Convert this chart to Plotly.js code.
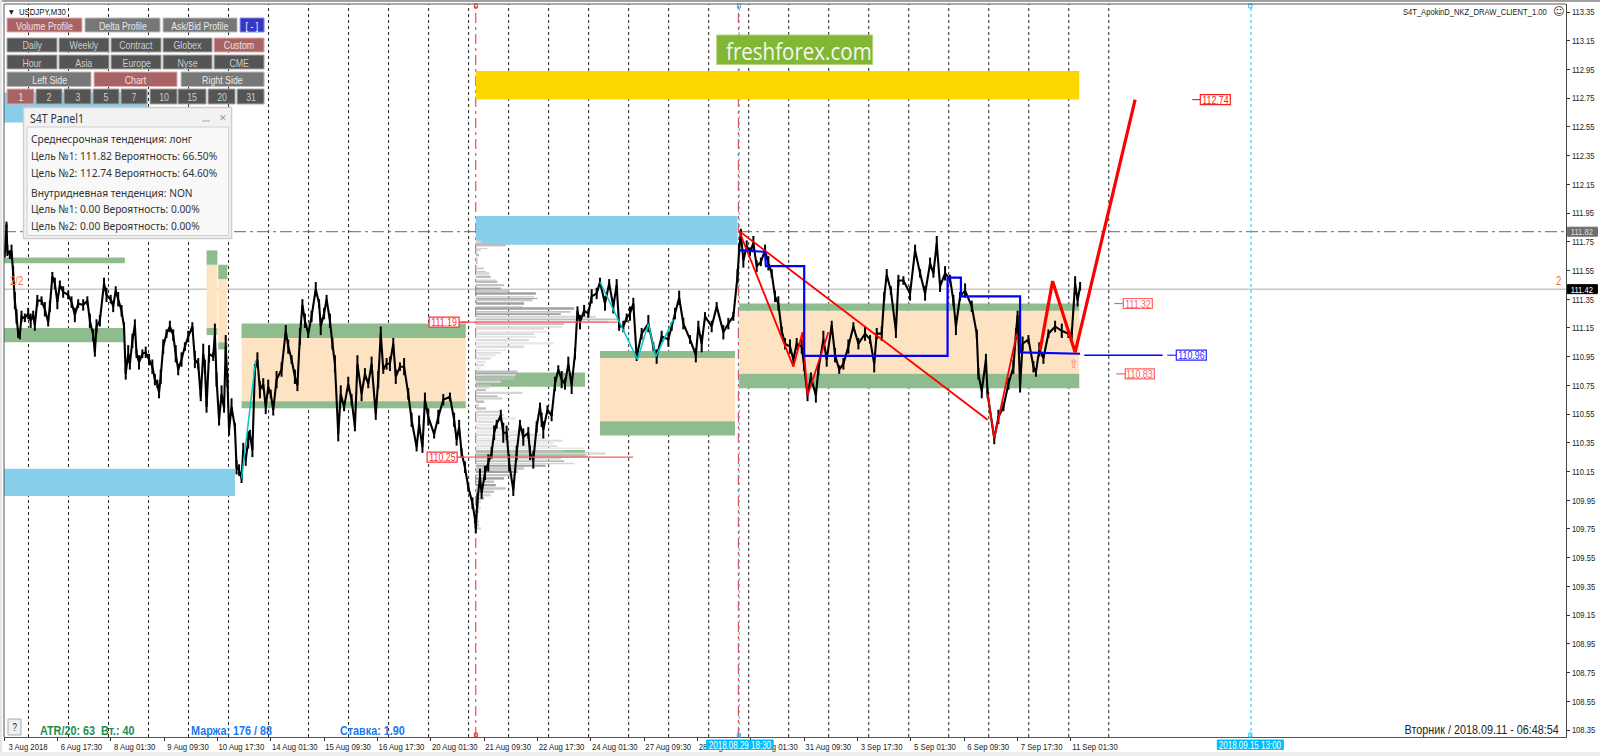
<!DOCTYPE html>
<html><head><meta charset="utf-8">
<script src="https://cdn.plot.ly/plotly-3.0.1.min.js"></script>
<style>html,body{margin:0;padding:0;background:#fff;overflow:hidden}#c{width:1600px;height:756px}</style>
</head><body><div id="c"></div>
<script>
// ---- data (bar index = 30 minute bars from the left edge, prices in JPY) ----
const priceBars = [1,3,4,7,9,11,13,15,17,19,21,25,29,32,35,37,40,45,49,53,55,58,61,64,67,71,77,81,85,89,95,100,103,107,109,111,115,120,123,128,131,134,137,141,144,146,149,151,154,157,159,162,166,170,174,178,181,184,186,188,191,195,199,203,206,209,213,217,221,226,229,233,236,239,241,243,246,251,253,255,258,261,264,266,268,270,273,277,279,282,285,287,290,293,295,298,301,304,307,311,314,317,320,323,327,333,338,341,345,349,352,355,358,361,365,369,374,378,380,384,387,391,394,397,401,404,408,413,417,421,424,429,433,437,441,446,449,452,455,459,463,467,470,475,480,485,489,495,498,502,505,509,516,521,527,535,540,543,546,549,553,557,562,565,
566,568,571,573,577,581,585,588,591,596,599,603,606,611,615,619,623,629,631,635,639,643,645,647,652,657,661,665,669,673,677,681,685,688,691,696,701,705,711,715,721,726,731,735,738,743,747,751,755,759,765,773,779,783,789,797,801,805,810,815,823,830,833,837,841,849,855,863,869,875,880,882,
884,887,891,895,899,903,908,913,917,921,925,929,933,937,943,947,951,957,960,964,968,974,977,983,987,993,997,1002,1007,1013,1019,1025,1033,1039,1044,1047,1053,1056,1059,1064,1070,1073,1079,1087,1093,1099,1105,1111,1115,1119,1123,1129,1135,1139,1142,1147,1153,1161,1167,1169,1173,1178,1180,1188,1193,1199,1205,1211,1214,1216,1219,1222,1229,1235,1238,1242,1247,1253,1261,1269,1277,1281,1285,1288,1291];
const priceVals = [111.67,111.87,111.69,111.66,111.69,111.53,111.34,111.23,111.11,111.10,111.23,111.22,111.25,111.20,111.24,111.17,111.34,111.34,111.28,111.19,111.30,111.51,111.46,111.33,111.45,111.40,111.38,111.33,111.24,111.32,111.31,111.34,111.20,111.10,110.98,111.16,111.20,111.46,111.38,111.35,111.30,111.41,111.35,111.27,111.16,110.83,110.97,110.90,111.06,111.17,110.97,110.91,110.97,110.98,110.93,110.88,110.79,110.76,110.70,110.81,111.02,111.11,111.16,111.10,110.97,110.86,110.93,111.02,111.09,111.16,110.93,110.90,110.67,110.97,110.88,110.60,110.97,110.95,111.11,110.79,110.51,110.69,110.59,111.02,110.79,110.44,110.60,110.46,110.18,110.16,110.10,110.30,110.23,110.37,110.41,110.30,110.86,110.93,110.72,110.76,110.60,110.74,110.69,110.58,110.79,110.86,111.13,111.02,110.93,110.81,110.75,111.09,111.31,111.20,111.11,111.23,111.42,111.32,111.16,111.25,111.35,111.20,111.04,110.90,110.41,110.69,110.60,110.76,110.65,110.46,110.90,110.69,110.83,110.76,110.90,110.55,110.79,111.11,110.86,110.90,110.90,111.04,110.81,110.88,110.88,110.69,110.51,110.32,110.48,110.32,110.65,110.53,110.41,110.53,110.65,110.67,110.51,110.37,110.46,110.28,110.18,110.04,109.93,109.82,
109.75,109.95,110.11,110.00,110.14,110.21,110.28,110.42,110.48,110.54,110.42,110.42,110.21,110.02,110.28,110.48,110.39,110.42,110.28,110.23,110.46,110.60,110.51,110.44,110.58,110.54,110.76,110.86,110.79,110.76,110.90,110.75,110.97,111.27,111.19,111.27,111.25,111.37,111.39,111.47,111.32,111.46,111.30,111.45,111.16,111.16,111.22,111.25,111.32,110.95,111.11,111.18,111.02,110.95,111.09,111.07,111.16,111.25,111.36,111.18,111.07,110.96,111.16,111.04,111.23,111.16,111.30,111.12,111.18,111.23,111.51,111.70,
111.81,111.62,111.72,111.68,111.74,111.58,111.61,111.69,111.60,111.53,111.37,111.32,111.13,111.04,111.02,110.93,111.04,111.02,110.88,110.68,110.81,110.68,110.86,111.07,110.93,111.17,110.96,110.86,110.90,111.02,111.16,111.04,111.11,111.07,110.90,111.11,111.11,111.37,111.52,111.41,111.13,111.48,111.48,111.39,111.69,111.53,111.39,111.60,111.53,111.74,111.44,111.53,111.49,111.34,111.16,111.37,111.41,111.30,111.11,110.83,110.71,110.93,110.69,110.38,110.53,110.60,110.76,110.88,111.11,111.24,110.74,111.04,111.07,110.88,110.84,111.00,110.94,111.11,111.16,111.13,111.11,111.11,111.46,111.34,111.44];
// half range of the bars around each vertex of the path (estimated by eye, in hundredths)
const barHalfRange = [3,2,4,3,4,5,6,5,3,3,4,3,4,5,3,4,4,3,5,3,4,3,4,5,3,4,3,4,5,3,4,3,5,4,3,5,4,4,5,3,4,3,5,4,3,4,6,4,5,4,3,5,3,4,4,5,4,3,4,5,5,3,4,4,6,4,5,3,4,3,6,4,3,7,5,4,6,3,7,5,4,6,3,8,5,4,6,3,5,4,3,5,4,6,3,5,4,5,6,4,5,5,3,4,6,5,4,5,3,5,4,6,4,5,3,4,5,3,6,4,3,5,4,6,5,6,3,5,4,3,6,5,4,3,5,4,6,5,3,4,5,4,5,3,6,4,5,3,6,4,5,6,3,5,4,3,5,4,5,3,4,3,4,3,
3,5,6,4,5,6,4,5,3,4,7,5,6,4,5,3,6,4,5,6,4,3,5,6,3,4,5,3,6,4,5,6,4,3,5,4,3,5,4,3,5,3,5,4,3,4,3,5,4,3,4,6,3,5,4,5,3,4,5,4,3,5,4,6,3,4,3,5,4,3,5,4,
3,5,4,3,5,4,3,4,5,3,4,5,3,4,5,3,4,5,3,4,3,5,4,6,5,3,5,3,4,5,3,4,5,3,6,4,5,3,4,3,5,4,3,5,4,3,5,4,3,5,4,5,3,4,6,3,5,4,3,4,5,4,3,4,5,3,4,5,4,3,4,5,3,4,3,5,4,3,4,5,3,4,5,4,3,4,5,4,3];

const profileLevels = [111.750,111.727,111.703,111.692,111.680,111.657,111.634,111.611,111.564,111.541,111.529,111.506,111.483,111.471,111.448,111.425,111.409,111.390,111.367,111.355,111.344,111.320,111.297,111.286,111.262,111.246,111.228,111.209,111.193,111.176,111.158,111.146,111.123,111.107,111.088,111.065,111.042,111.019,110.995,110.977,110.961,110.937,110.914,110.891,110.868,110.845,110.821,110.798,110.775,110.752,110.735,110.717,110.698,110.675,110.659,110.636,110.612,110.589,110.566,110.543,110.520,110.496,110.473,110.450,110.427,110.404,110.380,110.364,110.345,110.327,110.311,110.294,110.276,110.257,110.241,110.222,110.206,110.190,110.171,110.148,110.125,110.102,110.079,110.055,110.032,110.009,109.986,109.962,109.939,109.916,109.893,109.870,109.846,109.823,109.800,109.777,109.754,109.730];
const profileVolumes = [7,36,14,6,2,4,2,2,10,12,16,18,24,26,34,30,40,72,70,74,68,58,56,118,114,102,144,170,158,106,104,82,86,70,72,64,94,58,36,30,24,18,12,10,6,50,48,46,30,18,16,12,56,26,32,10,4,12,28,34,48,22,26,32,58,78,86,104,94,98,130,106,156,134,102,106,118,84,58,50,46,34,22,24,36,22,18,10,6,2,6,4,2,2,4,4,6,0];
const profileStart = 566;

const cyanBars = [285,302,null,715,760,773,782,803];
const cyanVals = [110.10,110.925,null,111.47,110.93,111.18,110.95,111.21];
const redThinBars = [882,1180,null,882,947,958,964,989,null,1180,1188,1215];
const redThinVals = [111.824,110.51,null,111.824,110.88,111.12,110.68,111.12,null,110.69,110.38,111.11];
const redThickBars = [1243,1258,1285,1357];
const redThickVals = [110.995,111.476,110.98,112.74];
const blueBars = [883,913,914,960,960,1132,1132,1148,1148,1219,1219,1291];
const blueVals = [111.69,111.68,111.58,111.58,110.956,110.956,111.50,111.50,111.37,111.37,110.98,110.97];
const blueExtBars = [1296,1390];
const blueExtVals = [110.96,110.96];

// zones: [first bar, last bar, top price, bottom price]
const blueZones = [[0,172,112.79,112.58],[0,277,110.17,109.98],[566,880,111.93,111.73]];
const goldZones = [[566,1290,112.94,112.74]];
const greenZones = [[0,145,111.64,111.60],[0,145,111.15,111.05],[243,256,111.69,111.59],[243,256,111.15,111.10],[257,268,111.59,111.49],[257,268,111.05,111.00],[285,554,111.18,111.08],[285,554,110.64,110.59],[566,697,110.84,110.74],[566,697,110.30,110.25],[715,877,110.99,110.94],[715,877,110.50,110.40],[882,1290,111.32,111.27],[882,1290,110.83,110.73]];
const orangeZones = [[243,256,111.59,111.15],[257,268,111.49,111.05],[285,554,111.08,110.64],[715,877,110.94,110.50],[882,1290,111.27,110.83]];

const separatorFirst = 29.4, separatorStep = 48, separatorCount = 28;
const xTickBars = [0,64,128,192,256,320,384,448,512,576,640,704,768,832,896,960,1024,1088,1152,1216,1280];
const xTickText = ['3 Aug 2018','6 Aug 17:30','8 Aug 01:30','9 Aug 09:30','10 Aug 17:30','14 Aug 01:30','15 Aug 09:30','16 Aug 17:30','20 Aug 01:30','21 Aug 09:30','22 Aug 17:30','24 Aug 01:30','27 Aug 09:30','28 Aug 17:30','30 Aug 01:30','31 Aug 09:30','3 Sep 17:30','5 Sep 01:30','6 Sep 09:30','7 Sep 17:30','11 Sep 01:30'];
const yTicks = [113.35,113.15,112.95,112.75,112.55,112.35,112.15,111.95,111.75,111.55,111.35,111.15,110.95,110.75,110.55,110.35,110.15,109.95,109.75,109.55,109.35,109.15,108.95,108.75,108.55,108.35];
const levelResistance = 111.82, levelBid = 111.42;
const vlineBars = [566,882,1496];

const panelLines = ['Среднесрочная тенденция: лонг','Цель №1: 111.82 Вероятность: 66.50%','Цель №2: 112.74 Вероятность: 64.60%','Внутридневная тенденция: NON','Цель №1: 0.00 Вероятность: 0.00%','Цель №2: 0.00 Вероятность: 0.00%'];

// ---- layout helpers ----
const L=4,R=1565.6,T=4,B=737;
const fx=p=>(p-L)/(R-L), fy=p=>(B-p)/(B-T);
const SANS='"Liberation Sans",sans-serif';
const shapes=[],ann=[];
const zone=(z,col)=>z.forEach(a=>shapes.push({type:'rect',xref:'x',yref:'y',x0:a[0],x1:a[1],y0:a[3],y1:a[2],fillcolor:col,line:{width:0},layer:'below'}));
zone(orangeZones,'#FEE3C2');zone(greenZones,'#8FBC8F');zone(blueZones,'#87CEEB');zone(goldZones,'#FFD700');
for(let k=0;k<separatorCount;k++){const b=separatorFirst+k*separatorStep;
  shapes.push({type:'line',xref:'x',yref:'paper',x0:b,x1:b,y0:0,y1:1,line:{color:'#222',width:1,dash:'3px,3px'},layer:'below'});}
shapes.push({type:'line',xref:'paper',yref:'y',x0:0,x1:1,y0:levelBid,y1:levelBid,line:{color:'#c8c8c8',width:1.5},layer:'below'});
shapes.push({type:'line',xref:'paper',yref:'y',x0:0,x1:1,y0:levelResistance,y1:levelResistance,line:{color:'#666',width:1,dash:'12px,4px,3px,4px'},layer:'below'});
shapes.push({type:'line',xref:'x',yref:'paper',x0:vlineBars[0],x1:vlineBars[0],y0:0,y1:1,line:{color:'#ff2020',width:1,dash:'10px,4px,3px,4px'},layer:'below'});
shapes.push({type:'line',xref:'x',yref:'paper',x0:vlineBars[1]-1,x1:vlineBars[1]-1,y0:0,y1:1,line:{color:'#ff2020',width:1,dash:'10px,4px,3px,4px'},layer:'below'});
shapes.push({type:'line',xref:'x',yref:'paper',x0:vlineBars[1],x1:vlineBars[1],y0:0,y1:1,line:{color:'#19c3ff',width:1,dash:'3px,3px'},layer:'below'});
shapes.push({type:'line',xref:'x',yref:'paper',x0:vlineBars[2],x1:vlineBars[2],y0:0,y1:1,line:{color:'#19c3ff',width:1,dash:'3px,3px'},layer:'below'});
[[111.19,460,617],[110.25,460,633]].forEach(a=>shapes.push({type:'line',xref:'paper',yref:'y',x0:fx(a[1]),x1:fx(a[2]),y0:a[0],y1:a[0],line:{color:'#ff5a5a',width:1.3},layer:'above'}));

const text=(t,px,py,o={})=>ann.push(Object.assign({text:t,xref:'paper',yref:'paper',x:fx(px),y:fy(py),xanchor:'left',yanchor:'middle',showarrow:false,font:{family:SANS,size:10,color:'#222'},align:o.xanchor==='center'?'center':(o.xanchor==='right'?'right':'left')},o));
const rect=(x0,y0,x1,y1,fill,line,w=1)=>shapes.push({type:'rect',xref:'paper',yref:'paper',x0:fx(x0),x1:fx(x1),y0:fy(y1),y1:fy(y0),fillcolor:fill,line:{color:line,width:w},layer:'above'});
const btn=(t,x0,y0,x1,y1,kind)=>{const st={red:['#A86464','#E4AFAF','#f0e0e0'],grey:['#777','#bbb','#e8e8e8'],dark:['#555','#aaa','#ccc'],blue:['#3636c4','#8a8ae8','#fff']}[kind];
  rect(x0,y0,x1,y1,st[0],st[1]);text(t,(x0+x1)/2,(y0+y1)/2+.5,{xanchor:'center',font:{family:SANS,size:11,color:st[2]}});};
[['Volume Profile',7,82,'red'],['Delta Profile',85,160,'grey'],['Ask/Bid Profile',163,237,'grey'],['[ - ]',240,264,'blue']].forEach(a=>btn(a[0],a[1],18,a[2],32,a[3]));
[['Daily',7,57],['Weekly',59,109],['Contract',111,161],['Globex',163,212],['Custom',214,264,'red']].forEach(a=>btn(a[0],a[1],38,a[2],52,a[3]||'dark'));
[['Hour',7,57],['Asia',59,109],['Europe',111,161],['Nyse',163,212],['CME',214,264]].forEach(a=>btn(a[0],a[1],55,a[2],69,'dark'));
[['Left Side',7,91,'grey'],['Chart',94,177,'red'],['Right Side',181,264,'grey']].forEach(a=>btn(a[0],a[1],72,a[2],86.5,a[3]));
[['1',7,34,'red'],['2',36,62],['3',64,91],['5',93,119],['7',121,147],['10',150,177],['15',178,206],['20',208,235],['31',237,264]].forEach(a=>btn(a[0],a[1],89,a[2],104,a[3]||'dark'));
// info panel
rect(23.5,107.5,231.5,238.5,'#f2f2f2','#cfcfcf',1.5);rect(27,127,228.5,235.5,'#f8f8f8','#cfcfcf',1);
text('S4T Panel1',28,118.5,{font:{family:'"Noto Sans",sans-serif',size:12,color:'#333'}});
rect(202,120.5,210,121.5,'#aaa','#aaa',0);text('✕',217,118,{font:{family:'"DejaVu Sans"',size:9,color:'#999'}});
[138,155,172,192,208,225].forEach((py,i)=>text(panelLines[i],29,py,{font:{family:'"Noto Sans",sans-serif',size:11.6,color:'#333'}}));
// header / footer
text('▼',6.5,11,{font:{family:'"DejaVu Sans"',size:6,color:'#111'}});text('USDJPY,M30',17,11,{font:{family:SANS,size:9.7,color:'#111'}});
text('S4T_ApokinD_NKZ_DRAW_CLIENT_1.00',1549,11,{xanchor:'right',font:{family:SANS,size:9.5,color:'#222'}});
text('☺',1550.5,12,{font:{family:'"DejaVu Sans"',size:11,color:'#333'}});
rect(716.5,35,872.5,64.5,'#82B735','#B5D486');
text('freshforex.com',724,50,{font:{family:'"Open Sans",sans-serif',size:24,color:'#f4f8ea'}});
text('2/2',8,281,{font:{family:SANS,size:12,color:'#FF6A33'}});
text('2',1554,281,{font:{family:SANS,size:12,color:'#FF6A33'}});
text('⇧',1067,364,{font:{family:'"DejaVu Sans"',size:12,color:'#F08080'}});
rect(8,719,21,735,'#f0f0f0','#aaa');text('?',14.5,727,{xanchor:'center',font:{family:SANS,size:10,color:'#222'}});
text('ATR/20: 63&nbsp;&nbsp;Вт.: 40',38,730,{font:{family:SANS,size:13.5,color:'#1E8C50',weight:700}});
text('Маржа: 176 / 88',189,730,{font:{family:SANS,size:13.5,color:'#1878F0',weight:700}});
text('Ставка: 1.90',338,730,{font:{family:SANS,size:13.5,color:'#1878F0',weight:700}});
text('Вторник / 2018.09.11 - 06:48:54',1561,729,{xanchor:'right',font:{family:SANS,size:13.5,color:'#222'}});
// time tags
const timeTag=(t,x0,x1)=>{rect(x0,740,x1,749.5,'#00BFFF','#00BFFF');text(t,(x0+x1)/2,745,{xanchor:'center',font:{family:SANS,size:10,color:'#fff'}});};
timeTag('2018.08.29 18:30',706.5,773);timeTag('2018.09.15 13:00',1217,1283);
// little end marks of the vertical lines
[475.7,738.7,1250].forEach(px=>{rect(px-1.5,4,px+1.5,8,'rgba(0,0,0,0)',px<500?'#ff2020':'#19c3ff');rect(px-1.5,733,px+1.5,737,'rgba(0,0,0,0)',px<500?'#ff2020':'#19c3ff');});
// price tags on the axis
const axisTag=(v,fill,col)=>{const py=12+(113.35-v)*143.6;rect(1567,py-4.5,1597,py+4.5,fill,fill);text(v.toFixed(2),1582,py,{xanchor:'center',font:{family:SANS,size:9.5,color:col}});};
axisTag(levelResistance,'#6e6e6e','#ddd');axisTag(levelBid,'#000','#fff');
const tag=(v,d0,d1,x0,x1,col)=>{const py=12+(113.35-v)*143.6;
 shapes.push({type:'line',xref:'paper',yref:'y',x0:fx(d0),x1:fx(d1),y0:v,y1:v,line:{color:col,width:1.2},layer:'above'});
 rect(x0,py-5,x1,py+5,'#fff',col,1.2);text(v.toFixed(2),(x0+x1)/2,py,{xanchor:'center',font:{family:SANS,size:11,color:col}});};
tag(111.19,459,468,429,459,'#ff3030');tag(110.25,457,464,427,457,'#ff3030');
tag(111.32,1114,1123,1123,1152,'#ff6060');tag(110.83,1116,1125,1125,1154,'#ff6060');
tag(110.96,1167,1176,1176,1206,'#2828ff');tag(112.74,1192,1200,1200,1230,'#ff2020');
// frame
rect(-4,-4,1604,1.5,'#a0a0a0','#a0a0a0');
rect(-4,752.5,1604,760,'#eeeeee','#eeeeee');
rect(-4,0,2,752,'#e6e6e6','#e6e6e6',0);
shapes.push({type:'line',xref:'paper',yref:'paper',x0:0,x1:0,y0:0,y1:1,line:{color:'#555',width:1},layer:'above'});
shapes.push({type:'line',xref:'paper',yref:'paper',x0:0,x1:1,y0:1,y1:1,line:{color:'#555',width:1},layer:'above'});

const line=(x,y,col,w)=>({type:'scatter',mode:'lines',x,y,line:{color:col,width:w,simplify:false},hoverinfo:'skip',connectgaps:false,showlegend:false});
const profileColors=profileLevels.map((v,i)=>{const dark=(v>111.23&&v<111.46)||(v>110.02&&v<110.2);const light=(v>110.85&&v<111.15)||(v>110.3&&v<110.55);
  return dark?(i%2?'#a0a0a0':'#c4c4c4'):light?(i%2?'#dcdcdc':'#e8e8e8'):(i%2?'#bcbcbc':'#d4d4d4');});
const profileWidths=profileLevels.map((v,i)=>i+1<profileLevels.length?(v-profileLevels[i+1])*0.72:0.01);
const wickX=[],wickY=[];
priceBars.forEach((b,i)=>{const w=(barHalfRange[i]||3)/100;wickX.push(b,b,null);wickY.push(priceVals[i]-w,priceVals[i]+w,null);});
const data=[
 {type:'bar',orientation:'h',y:profileLevels,x:profileVolumes,base:profileStart,width:profileWidths,marker:{color:profileColors,line:{width:0}},hoverinfo:'skip',showlegend:false},
 line(priceBars,priceVals,'#000',2.1),
 line(wickX,wickY,'#000',2),
 line(cyanBars,cyanVals,'#00C8C8',1.5),
 line(redThinBars,redThinVals,'#ff0000',1.8),
 line(blueBars,blueVals,'#0000ff',2.2),
 line(blueExtBars,blueExtVals,'#0000ff',1.4),
 line(redThickBars,redThickVals,'#ff0000',3.2)
];
const layout={width:1600,height:756,margin:{l:L,r:1600-R,t:T,b:756-B,pad:0},paper_bgcolor:'#fff',plot_bgcolor:'#fff',showlegend:false,
 xaxis:{range:[0,(R-L)*1.2],tickmode:'array',tickvals:xTickBars,ticktext:xTickText,ticks:'outside',ticklen:3,tickcolor:'#333',tickangle:0,showgrid:false,zeroline:false,showline:true,linecolor:'#555',linewidth:1,tickfont:{family:SANS,size:9.7,color:'#222'},ticklabelshift:24,ticklabelstandoff:-3,automargin:false},
 yaxis:{range:[108.3013,113.4057],side:'right',tickmode:'array',tickvals:yTicks,ticktext:yTicks.map(v=>v.toFixed(2)),ticks:'outside',ticklen:3,tickcolor:'#333',showgrid:false,zeroline:false,showline:true,linecolor:'#444',linewidth:1,tickfont:{family:SANS,size:9.5,color:'#222'},automargin:false},
 shapes,annotations:ann,hovermode:false};
// the reference is a horizontally compressed screenshot: compress the glyphs the same way
const squeeze=()=>{document.querySelectorAll('#c svg text').forEach(t=>{
  const s=t.textContent, fam=t.style.fontFamily||'';
  if(!s||/[☺⇧▼✕]/.test(s))return;
  const r=fam.includes('Open Sans')?0.855:fam.includes('Noto')?0.88:0.8;
  const w=t.getComputedTextLength();
  t.setAttribute('textLength',(w*r).toFixed(2));t.setAttribute('lengthAdjust','spacingAndGlyphs');
});};
Plotly.newPlot('c',data,layout,{displayModeBar:false,staticPlot:true}).then(squeeze);
</script></body></html>
